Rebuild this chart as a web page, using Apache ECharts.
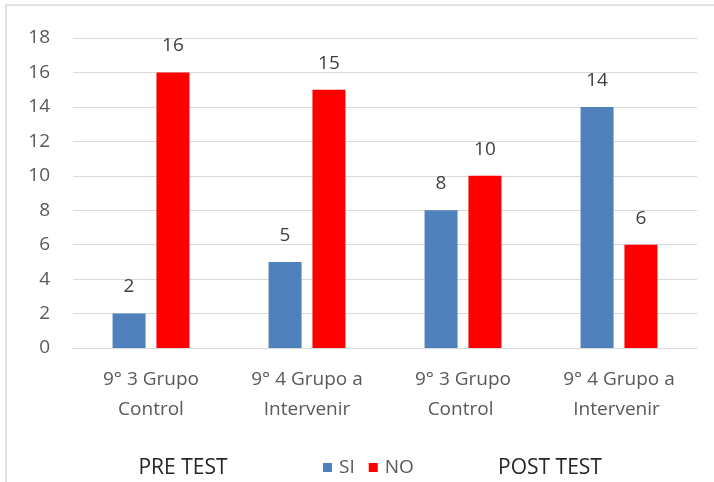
<!DOCTYPE html>
<html><head><meta charset="utf-8">
<script src="https://cdn.jsdelivr.net/npm/echarts@6/dist/echarts.min.js"></script>
<style>html,body{margin:0;padding:0;background:#fff}#c{width:714px;height:482px}</style>
</head><body><div id="c"></div>
<script>
const categories = ['9° 3 Grupo\nControl', '9° 4 Grupo a\nIntervenir', '9° 3 Grupo\nControl ', '9° 4 Grupo a\nIntervenir '];
const siValues = [2, 5, 8, 14];
const noValues = [16, 15, 10, 6];
const yTicks = { min: 0, max: 18, interval: 2 };
const groupLabels = ['PRE TEST', 'POST TEST'];

const chart = echarts.init(document.getElementById('c'));
const font = '"Open Sans", "Noto Sans", sans-serif';
chart.setOption({
  animation: false,
  grid: { left: 73, right: 17, top: 38, bottom: 134, containLabel: false },
  graphic: [
    { type: 'rect', shape: { x: 6, y: 5, width: 740, height: 500 }, style: { fill: 'none', stroke: '#d9d9d9', lineWidth: 1.5 } },
    { type: 'text', x: 183, y: 468, style: { text: groupLabels[0], fill: '#262626', font: '21px ' + font, align: 'center', verticalAlign: 'middle' } },
    { type: 'text', x: 550, y: 468, style: { text: groupLabels[1], fill: '#262626', font: '21px ' + font, align: 'center', verticalAlign: 'middle' } }
  ],
  legend: {
    data: ['SI', 'NO'], left: 318, top: 453, itemWidth: 9, itemHeight: 9, itemGap: 14,
    icon: 'rect',
    textStyle: { color: '#595959', fontSize: 19, fontFamily: font, padding: [0, 0, 0, 2] }
  },
  xAxis: {
    type: 'category', data: categories,
    axisLine: { lineStyle: { color: '#d9d9d9', width: 1 } },
    axisTick: { show: false },
    axisLabel: { color: '#595959', fontSize: 19, fontFamily: font, lineHeight: 30, margin: 17, interval: 0 }
  },
  yAxis: {
    type: 'value', min: yTicks.min, max: yTicks.max, interval: yTicks.interval,
    axisLine: { show: false }, axisTick: { show: false },
    splitLine: { lineStyle: { color: '#d9d9d9', width: 1 } },
    axisLabel: { color: '#595959', fontSize: 19, fontFamily: font, margin: 23 }
  },
  series: [
    { name: 'SI', type: 'bar', data: siValues, barWidth: 33, barGap: '33%',
      itemStyle: { color: '#4f81bd' },
      label: { show: true, position: 'top', distance: 17, color: '#404040', fontSize: 19, fontFamily: font } },
    { name: 'NO', type: 'bar', data: noValues, barWidth: 33, barGap: '33%',
      itemStyle: { color: '#ff0000' },
      label: { show: true, position: 'top', distance: 17, color: '#404040', fontSize: 19, fontFamily: font } }
  ]
});
</script></body></html>
